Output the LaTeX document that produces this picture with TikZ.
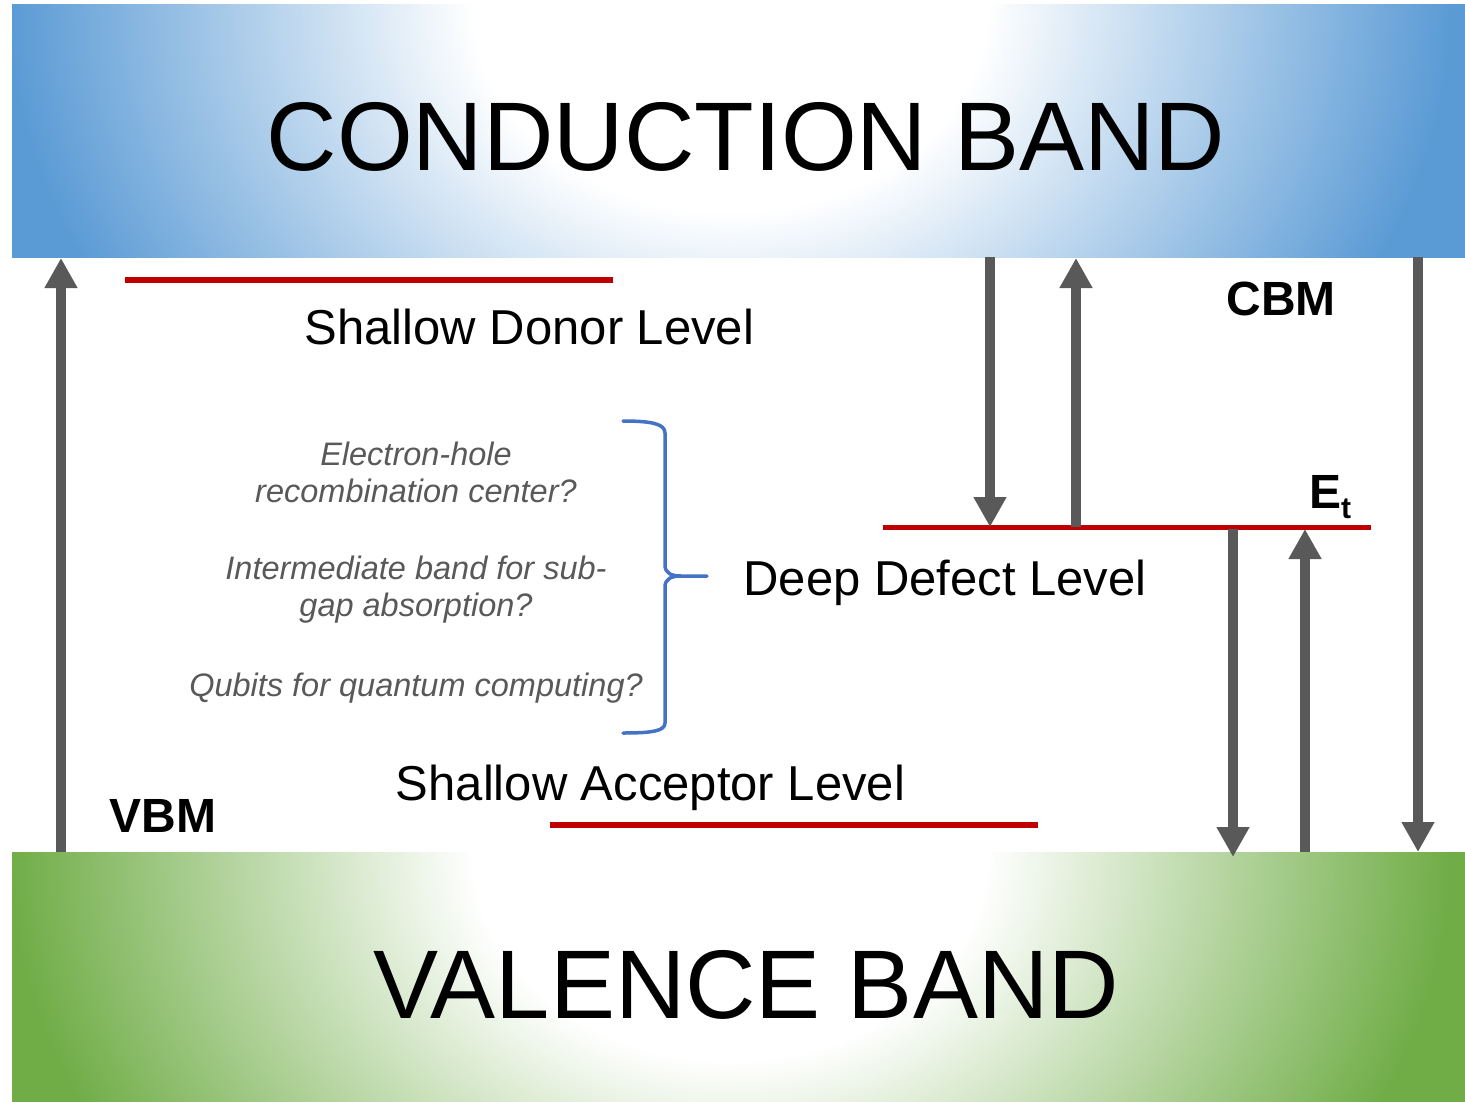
\documentclass[tikz,border=0pt]{standalone}
\usepackage{fontspec}
\setmainfont{Liberation Sans}
\usetikzlibrary{arrows.meta}
\definecolor{cbblue}{HTML}{5B9BD5}
\definecolor{vbgreen}{HTML}{70AD47}
\definecolor{arrgray}{HTML}{595959}
\definecolor{lvlred}{HTML}{C00000}
\definecolor{bracebl}{HTML}{4472C4}
\definecolor{txtgray}{HTML}{595959}
\pgfdeclareradialshading{cbshade}{\pgfpoint{0bp}{0bp}}{color(0bp)=(white); color(8bp)=(white); color(22.5bp)=(cbblue); color(50bp)=(cbblue)}
\pgfdeclareradialshading{vbshade}{\pgfpoint{0bp}{0bp}}{color(0bp)=(white); color(8bp)=(white); color(22.5bp)=(vbgreen); color(50bp)=(vbgreen)}
\begin{document}
\begin{tikzpicture}[x=1pt,y=-1pt,
  arr/.style={draw=arrgray, line width=10pt, -{Triangle[width=31pt,length=30pt]}},
  lvl/.style={draw=lvlred, line width=5.5pt},
  bandlbl/.style={anchor=base, inner sep=0pt, font=\fontsize{97.5}{117}\selectfont},
  lvllbl/.style={anchor=base, inner sep=0pt, font=\fontsize{49}{59}\selectfont},
  edgelbl/.style={anchor=base, inner sep=0pt, font=\fontsize{48}{58}\selectfont\bfseries},
  note/.style={anchor=base, inner sep=0pt, text=txtgray, font=\fontsize{32.5}{38}\selectfont\itshape},
  bracestyle/.style={draw=bracebl, line width=3.5pt, line cap=round, line join=round}]
\useasboundingbox (0,0) rectangle (1465,1101);
% bands
\begin{scope}
  \clip (12,4) rectangle (1465,257);
  \shade[shading=cbshade] (730,4) ellipse[x radius=800, y radius=650];
\end{scope}
\begin{scope}
  \clip (12,852) rectangle (1465,1101);
  \shade[shading=vbshade] (730,852) ellipse[x radius=800, y radius=650];
\end{scope}
\node[bandlbl] (cbtext) at (746,170) {CONDUCTION BAND};
\node[bandlbl] (vbtext) at (746,1018) {VALENCE BAND};
% levels
\coordinate (dl) at (125,280);  \coordinate (dr) at (613,280);
\coordinate (el) at (883,527.5); \coordinate (er) at (1371,527.5);
\coordinate (al) at (550,825);  \coordinate (ar) at (1038,825);
\draw[lvl] (dl) -- (dr);
\draw[lvl] (el) -- (er);
\draw[lvl] (al) -- (ar);
% arrow ends
\coordinate (a1s) at (61,852);   \coordinate (a1e) at (61,258);
\coordinate (a2s) at (990,257);  \coordinate (a2e) at (990,527);
\coordinate (a3s) at (1076,527); \coordinate (a3e) at (1076,258);
\coordinate (a4s) at (1233,529); \coordinate (a4e) at (1233,857);
\coordinate (a5s) at (1305,852); \coordinate (a5e) at (1305,529);
\coordinate (a6s) at (1418,257); \coordinate (a6e) at (1418,852);
\draw[arr] (a1s) -- (a1e);
\draw[arr] (a2s) -- (a2e);
\draw[arr] (a3s) -- (a3e);
\draw[arr] (a4s) -- (a4e);
\draw[arr] (a5s) -- (a5e);
\draw[arr] (a6s) -- (a6e);
% labels
\node[lvllbl] (donor) at (529.5,344) {Shallow Donor Level};
\node[lvllbl] (deep) at (945,595) {Deep Defect Level};
\node[lvllbl] (acc) at (650.5,800) {Shallow Acceptor Level};
\node[edgelbl] (cbm) at (1281,315) {CBM};
\node[edgelbl] (vbm) at (163,832) {VBM};
\node[anchor=base west, inner sep=0pt, font=\fontsize{48}{58}\selectfont\bfseries] (et) at (1309,508) {E\raisebox{-10pt}{\fontsize{30}{30}\selectfont t}};
% notes
\node[note] (n1a) at (416,465) {Electron-hole};
\node[note] (n1b) at (416,502) {recombination center?};
\node[note] (n2a) at (416,579) {Intermediate band for sub-};
\node[note] (n2b) at (416,616) {gap absorption?};
\node[note] (n3) at (416,696) {Qubits for quantum computing?};
% brace
\coordinate (btop) at (623,421);
\coordinate (btip) at (707,576);
\coordinate (bbot) at (623,733);
\draw[bracestyle] (btop) .. controls (652,421) and (665,424) .. (665,433) -- (665,565)
   .. controls (665,573) and (671,576) .. (681,576) -- (btip)
   (681,576) .. controls (671,576) and (665,579) .. (665,587) -- (665,723)
   .. controls (665,731) and (652,733) .. (bbot);
\end{tikzpicture}
\end{document}
